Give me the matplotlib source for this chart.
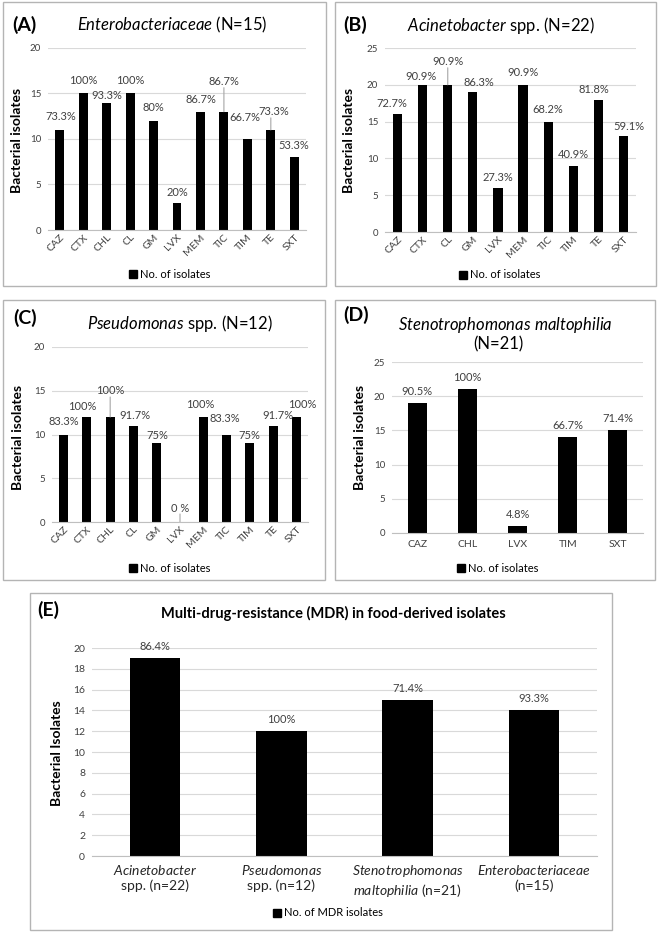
import matplotlib
matplotlib.use('Agg')
import matplotlib.pyplot as plt
from matplotlib.patches import Rectangle, Patch

plt.rcParams['font.family'] = ['Lato', 'DejaVu Sans']
plt.rcParams['mathtext.fontset'] = 'custom'
plt.rcParams['mathtext.rm'] = 'Lato'
plt.rcParams['mathtext.it'] = 'Lato:italic'
plt.rcParams['mathtext.bf'] = 'Lato:bold'

# ---- data ----
a_drugs = ['CAZ', 'CTX', 'CHL', 'CL', 'GM', 'LVX', 'MEM', 'TIC', 'TIM', 'TE', 'SXT']
a_counts = [11, 15, 14, 15, 12, 3, 13, 13, 10, 11, 8]
a_pct = ['73.3%', '100%', '93.3%', '100%', '80%', '20%', '86.7%', '86.7%', '66.7%', '73.3%', '53.3%']

b_drugs = ['CAZ', 'CTX', 'CL', 'GM', 'LVX', 'MEM', 'TIC', 'TIM', 'TE', 'SXT']
b_counts = [16, 20, 20, 19, 6, 20, 15, 9, 18, 13]
b_pct = ['72.7%', '90.9%', '90.9%', '86.3%', '27.3%', '90.9%', '68.2%', '40.9%', '81.8%', '59.1%']

c_drugs = ['CAZ', 'CTX', 'CHL', 'CL', 'GM', 'LVX', 'MEM', 'TIC', 'TIM', 'TE', 'SXT']
c_counts = [10, 12, 12, 11, 9, 0, 12, 10, 9, 11, 12]
c_pct = ['83.3%', '100%', '100%', '91.7%', '75%', '0 %', '100%', '83.3%', '75%', '91.7%', '100%']

d_drugs = ['CAZ', 'CHL', 'LVX', 'TIM', 'SXT']
d_counts = [19, 21, 1, 14, 15]
d_pct = ['90.5%', '100%', '4.8%', '66.7%', '71.4%']

e_groups = [r'$\mathit{Acinetobacter}$' + '\nspp. (n=22)',
            r'$\mathit{Pseudomonas}$' + '\nspp. (n=12)',
            r'$\mathit{Stenotrophomonas}$' + '\n' + r'$\mathit{maltophilia}$ (n=21)',
            r'$\mathit{Enterobacteriaceae}$' + '\n(n=15)']
e_counts = [19, 12, 15, 14]
e_pct = ['86.4%', '100%', '71.4%', '93.3%']

# ---- layout (pixels) ----
W, H = 660, 932
fig = plt.figure(figsize=(W/100, H/100), dpi=100)

def frac(x0, y0, x1, y1):
    return [x0/W, 1-y1/H, (x1-x0)/W, (y1-y0)/H]

def ftext(x, y, s, **kw):
    fig.text(x/W, 1-y/H, s, **kw)

GRID = '#d9d9d9'
TICK = '#404040'
LAB = '#404040'

# frames
for x0, y0, x1, y1 in [(3, 2, 326, 286), (335, 2, 656, 286), (3, 300, 325, 580),
                       (335, 300, 655, 580), (30, 593, 612, 930)]:
    fig.patches.append(Rectangle((x0/W, 1-y1/H), (x1-x0)/W, (y1-y0)/H,
                                 transform=fig.transFigure, fill=False,
                                 edgecolor='#b4b4b4', lw=1.0))


def bar_panel(rect, cats, vals, pcts, ymax, step, width, rot,
              offs, leaders=(), tick_fs=7, lab_fs=8):
    ax = fig.add_axes(frac(*rect))
    x = list(range(len(cats)))
    bars = ax.bar(x, vals, width=width, color='black', zorder=3)
    ax.set_xlim(-0.5, len(cats)-0.5)
    ax.set_ylim(0, ymax)
    ax.set_yticks(range(0, ymax+1, step))
    ax.yaxis.grid(True, color=GRID, lw=0.8, zorder=0)
    for s in ['top', 'right', 'left']:
        ax.spines[s].set_visible(False)
    ax.spines['bottom'].set_color('#bfbfbf')
    ax.spines['bottom'].set_zorder(4)
    ax.tick_params(length=0, labelsize=tick_fs, labelcolor=TICK, pad=5)
    ax.set_xticks(x)
    if rot:
        ax.set_xticklabels(cats, rotation=45, ha='right', rotation_mode='anchor')
        ax.tick_params(axis='x', pad=2, labelsize=7.5)
    else:
        ax.set_xticklabels(cats)
        ax.tick_params(axis='x', labelsize=7.5)
    for i, (v, p) in enumerate(zip(vals, pcts)):
        dx, dy = offs.get(i, (0, 12))
        ax.annotate(p, (i, v), xytext=(dx*0.72, dy*0.72), textcoords='offset points',
                    ha='center', va='center', fontsize=lab_fs, color=LAB, zorder=5)
        if i in leaders:
            ax.annotate('', (i, v), xytext=(0, (dy-6)*0.72), textcoords='offset points',
                        arrowprops=dict(arrowstyle='-', color='#a6a6a6', lw=0.8,
                                        shrinkA=0, shrinkB=0))
    return ax, bars


# (A)
axA, barsA = bar_panel((48, 48, 306, 230), a_drugs, a_counts, a_pct, 20, 5, 0.38, True,
                       {0: (1, 13), 1: (0, 13), 2: (0, 7), 3: (0, 13), 4: (0, 13),
                        5: (0, 10), 6: (0, 12), 7: (0, 30), 8: (-2, 21), 9: (3, 18),
                        10: (-1, 12)}, leaders=(7, 9))
# (B)
axB, barsB = bar_panel((385, 48, 636, 232), b_drugs, b_counts, b_pct, 25, 5, 0.37, True,
                       {0: (-6, 11), 1: (-2, 8), 2: (0, 23), 3: (6, 10), 4: (0, 10),
                        5: (0, 12), 6: (0, 12), 7: (0, 11), 8: (-4, 10), 9: (5, 10)},
                       leaders=(2,))
# (C)
axC, barsC = bar_panel((52, 347, 308, 522), c_drugs, c_counts, c_pct, 20, 5, 0.39, True,
                       {0: (0, 13), 1: (-5, 10), 2: (0, 26), 3: (1, 10), 4: (1, 8),
                        5: (0, 14), 6: (-3, 12), 7: (-2, 16), 8: (0, 8), 9: (5, 10),
                        10: (6, 12)}, leaders=(2, 5))
# (D)
axD, barsD = bar_panel((392, 362, 643, 533), d_drugs, d_counts, d_pct, 25, 5, 0.38, False,
                       {})
# (E)
axE, barsE = bar_panel((92, 648, 597, 856), e_groups, e_counts, e_pct, 20, 2, 0.4, False,
                       {}, tick_fs=7.5, lab_fs=8)
axE.tick_params(axis='x', labelsize=10, labelcolor='#262626', pad=5)

# panel letters and titles
ftext(12, 25, '(A)', fontsize=14, fontweight='bold', va='center')
ftext(172, 25, r'$\mathit{Enterobacteriaceae}$ (N=15)', fontsize=12, ha='center', va='center')
ftext(343, 25, '(B)', fontsize=14, fontweight='bold', va='center')
ftext(501, 25, r'$\mathit{Acinetobacter}$ spp. (N=22)', fontsize=12, ha='center', va='center')
ftext(13, 318, '(C)', fontsize=14, fontweight='bold', va='center')
ftext(180, 323, r'$\mathit{Pseudomonas}$ spp. (N=12)', fontsize=12, ha='center', va='center')
ftext(343, 315, '(D)', fontsize=14, fontweight='bold', va='center')
ftext(505, 325, r'$\mathit{Stenotrophomonas}$ $\mathit{maltophilia}$', fontsize=12,
      ha='center', va='center')
ftext(498, 344, '(N=21)', fontsize=12, ha='center', va='center')
ftext(37, 610, '(E)', fontsize=14, fontweight='bold', va='center')
ftext(333, 613, 'Multi-drug-resistance (MDR) in food-derived isolates', fontsize=10.5,
      fontweight='bold', ha='center', va='center')

# axis titles
for x, y, s in [(17, 140, 'Bacterial isolates'), (349, 140, 'Bacterial isolates'),
                (18, 437, 'Bacterial isolates'), (360, 437, 'Bacterial isolates'),
                (57, 753, 'Bacterial Isolates')]:
    ftext(x, y, s, fontsize=10, fontweight='bold', rotation=90, ha='center', va='center')

# legends
for ax, bars, x, y, lab in [(axA, barsA, 170, 274, 'No. of isolates'),
                            (axB, barsB, 500, 275, 'No. of isolates'),
                            (axC, barsC, 170, 568, 'No. of isolates'),
                            (axD, barsD, 498, 568, 'No. of isolates'),
                            (axE, barsE, 328, 913, 'No. of MDR isolates')]:
    ax.legend([Patch(color='black')], [lab], loc='center',
              bbox_to_anchor=(x/W, 1-y/H), bbox_transform=fig.transFigure,
              frameon=False, fontsize=8, handlelength=0.7, handleheight=0.7,
              handletextpad=0.3, borderpad=0)

fig.savefig('out.png', dpi=100, facecolor='white')
